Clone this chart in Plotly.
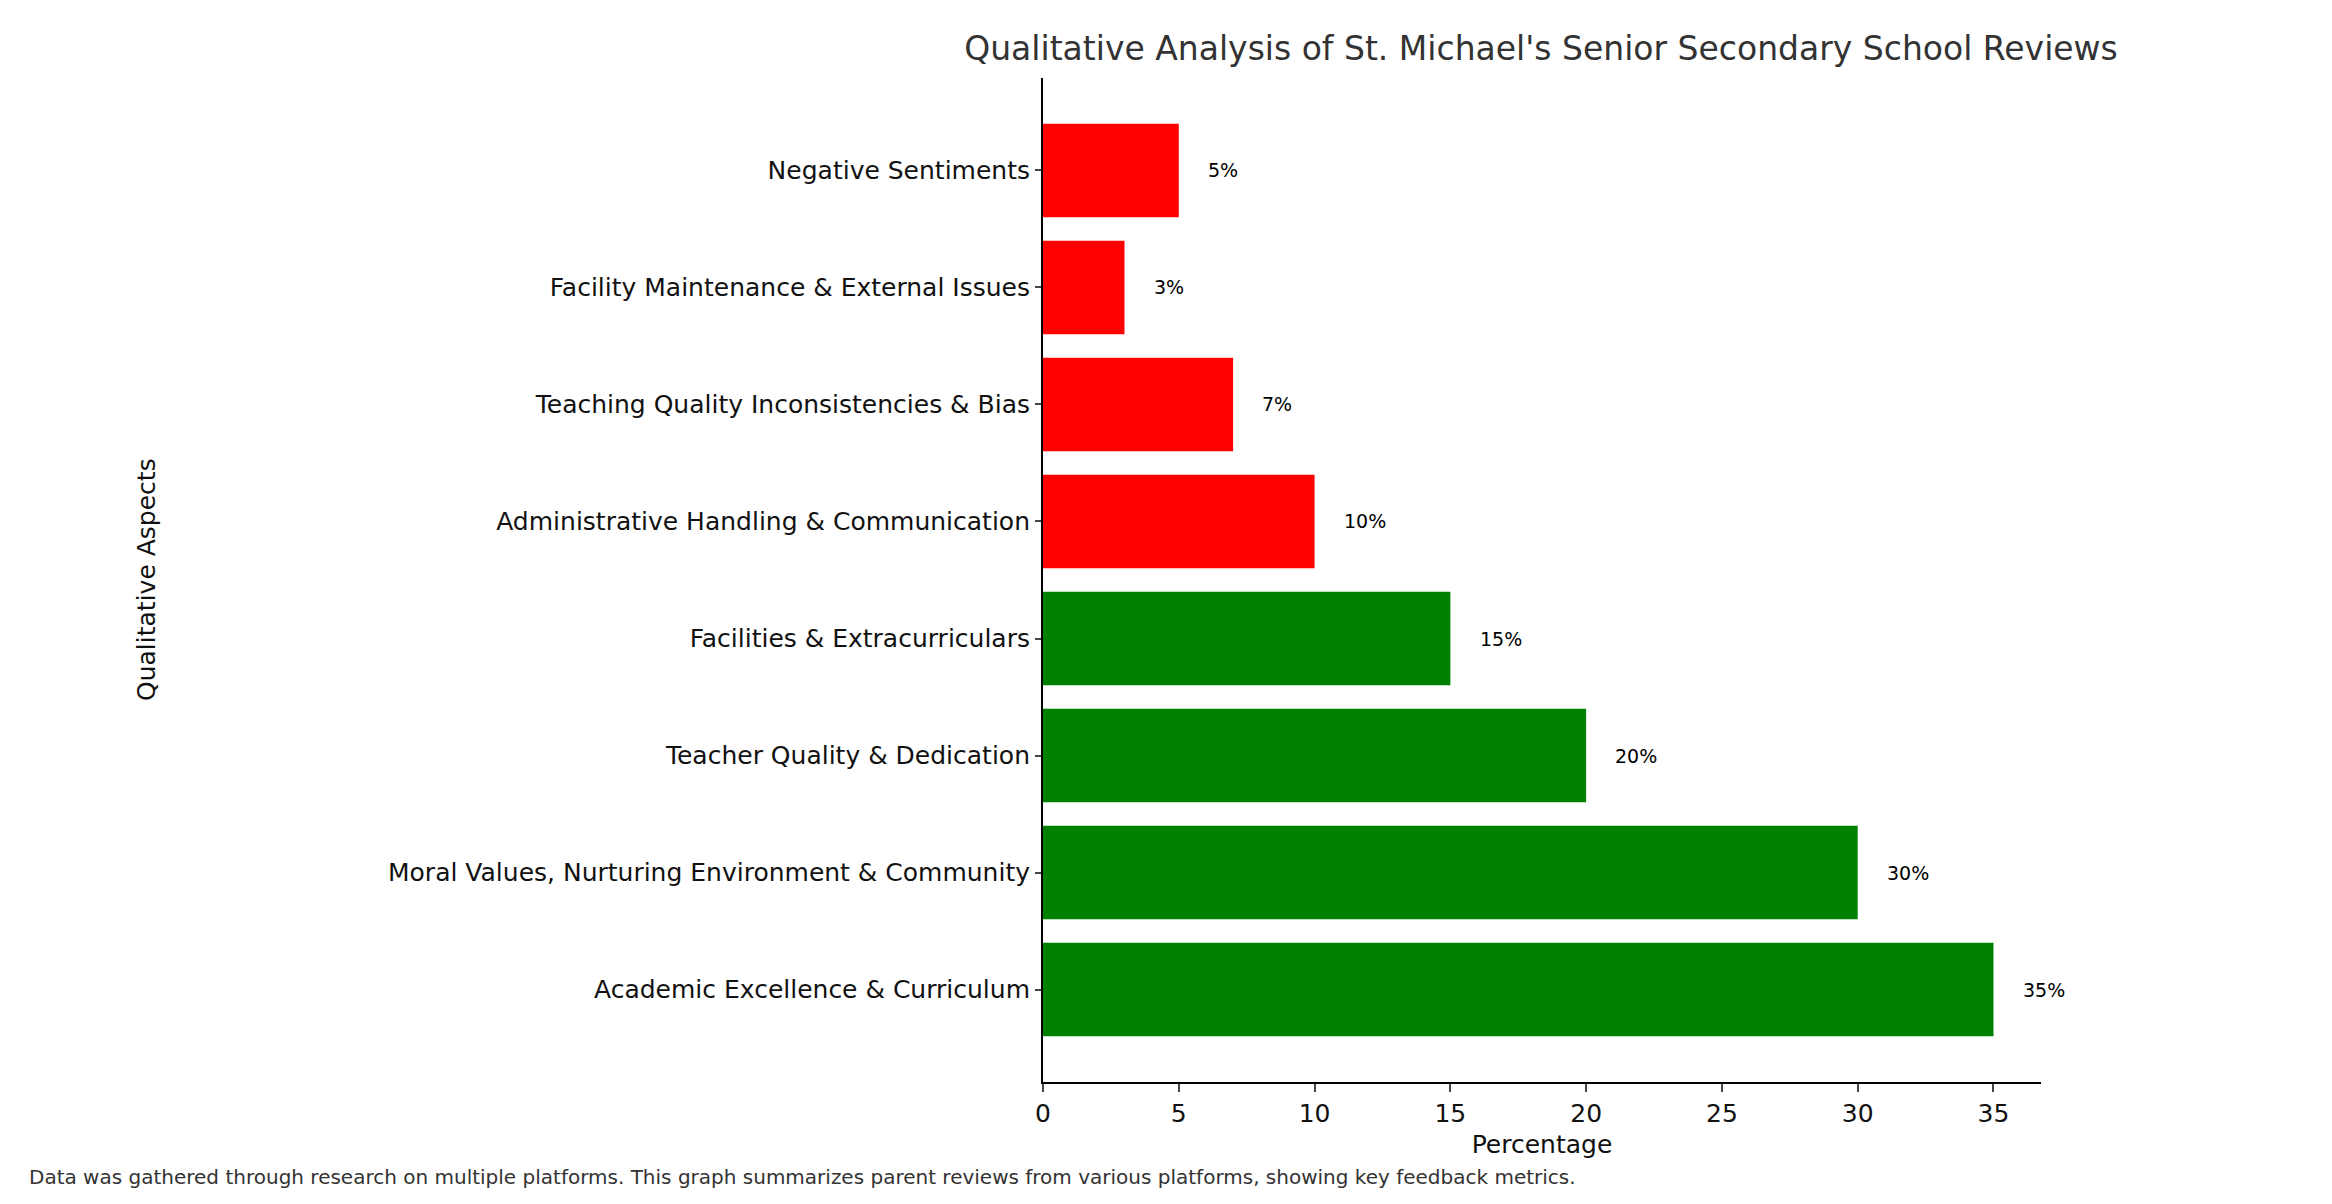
import plotly.graph_objects as go

aspects = [
    "Academic Excellence & Curriculum",
    "Moral Values, Nurturing Environment & Community",
    "Teacher Quality & Dedication",
    "Facilities & Extracurriculars",
    "Administrative Handling & Communication",
    "Teaching Quality Inconsistencies & Bias",
    "Facility Maintenance & External Issues",
    "Negative Sentiments",
]
percentages = [35, 30, 20, 15, 10, 7, 3, 5]
colors = ["green", "green", "green", "green", "red", "red", "red", "red"]

W, H = 2332, 1204
font = "DejaVu Sans"

fig = go.Figure(go.Bar(
    x=percentages, y=list(range(len(aspects))), orientation="h",
    marker_color=colors, marker_line_width=0, width=0.8,
))

for i, v in enumerate(percentages):
    fig.add_annotation(x=v + 1, y=i, text=f"{v}%", showarrow=False,
                       xanchor="left", yanchor="middle",
                       font=dict(size=19, color="black", family=font))

fig.update_layout(
    width=W, height=H,
    plot_bgcolor="white", paper_bgcolor="white",
    margin=dict(l=1035, r=299, t=70, b=130),
    showlegend=False,
    font=dict(family=font, color="#111111"),
    title=dict(text="Qualitative Analysis of St. Michael's Senior Secondary School Reviews",
               x=1533 / W, xanchor="center", y=1 - 40 / H, yanchor="middle",
               font=dict(size=33, color="#333333", family=font)),
)
fig.update_xaxes(range=[0, 36.75], tickvals=[0, 5, 10, 15, 20, 25, 30, 35],
                 showline=True, linecolor="black", linewidth=2, ticks="outside",
                 ticklen=8, tickwidth=1.5, showgrid=False, zeroline=False,
                 tickfont=dict(size=25, color="#111111"),
                 title=dict(text="Percentage", font=dict(size=25, color="#111111"), standoff=8))
fig.update_yaxes(range=[-0.79, 7.79], tickvals=list(range(len(aspects))), ticktext=aspects,
                 showline=True, linecolor="black", linewidth=2, ticks="outside",
                 ticklen=6, tickwidth=1.5, showgrid=False, zeroline=False,
                 tickfont=dict(size=25, color="#111111"))
fig.add_annotation(text="Qualitative Aspects", textangle=-90, xref="paper", yref="paper",
                   x=-(1035 - 138) / (W - 1035 - 299), y=0.5, showarrow=False,
                   xanchor="center", yanchor="middle",
                   font=dict(size=25, color="#111111", family=font))
fig.add_annotation(text="Data was gathered through research on multiple platforms. This graph summarizes parent reviews from various platforms, showing key feedback metrics.",
                   xref="paper", yref="paper", x=-(1035 - 19) / (W - 1035 - 299),
                   y=-(1169 - 1074) / (1074 - 70), xanchor="left", yanchor="middle",
                   showarrow=False, font=dict(size=20, color="#333333", family=font))

fig.write_html("out.html")
